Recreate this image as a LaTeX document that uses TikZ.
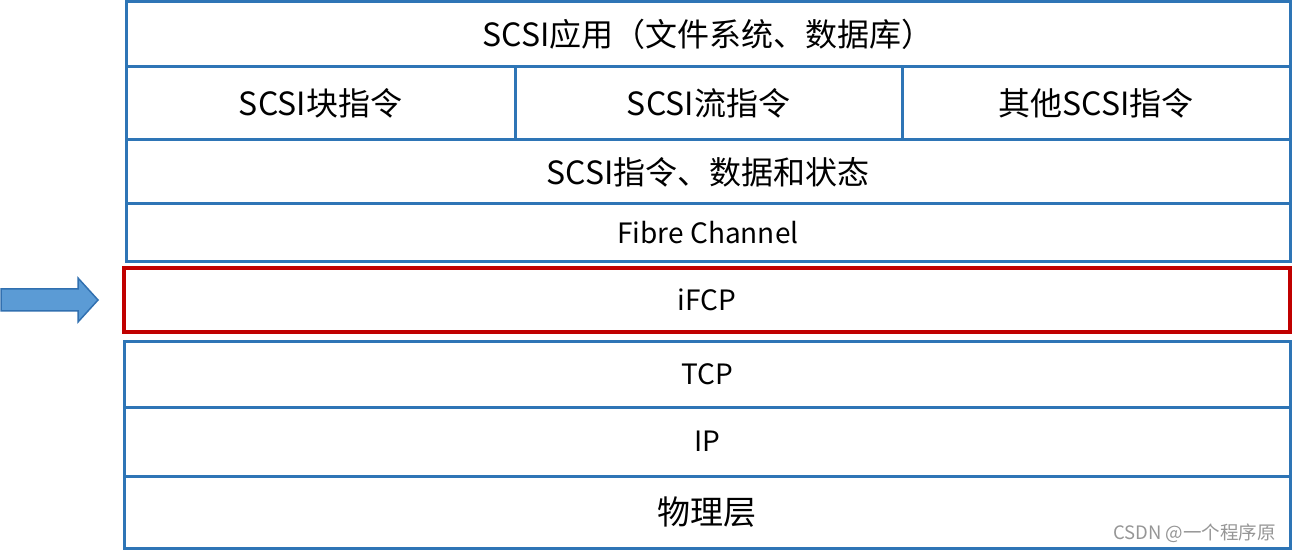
\documentclass[tikz,border=0pt]{standalone}
\usepackage{fontspec}
\setmainfont{Noto Sans CJK SC}
\usetikzlibrary{positioning}
\definecolor{layblue}{RGB}{46,117,182}
\definecolor{layred}{RGB}{192,0,0}
\definecolor{arrfill}{RGB}{91,155,213}
\definecolor{arrline}{RGB}{49,112,176}
\definecolor{wmgray}{RGB}{150,150,150}
\tikzset{
	layer/.style={draw=layblue,line width=3pt,inner sep=0pt,outer sep=0pt,anchor=north west,font=\fontsize{32}{32}\selectfont},
	thin layer/.style={layer,font=\fontsize{28}{28}\selectfont},
}
\begin{document}
\begin{tikzpicture}[x=1pt,y=-1pt]
	\useasboundingbox[fill=white](0,0)rectangle(1293,553);
	\node[layer,minimum width=1164pt,minimum height=65pt](app)at(126,2){SCSI应用（文件系统、数据库）};
	\node[layer,minimum width=389pt,minimum height=73pt,below right=0pt of app.south west](blk){SCSI块指令};
	\node[layer,minimum width=387pt,minimum height=73pt,below right=0pt of blk.north east](strm){SCSI流指令};
	\node[layer,minimum width=388pt,minimum height=73pt,below right=0pt of strm.north east](oth){其他SCSI指令};
	\node[layer,minimum width=1164pt,minimum height=64pt,below right=0pt of blk.south west](cmd){SCSI指令、数据和状态};
	\node[thin layer,minimum width=1164pt,minimum height=58pt,below right=0pt of cmd.south west](fc){Fibre Channel};
	\node[thin layer,draw=layred,line width=4pt,minimum width=1166pt,minimum height=64pt](ifcp)at(124,268){iFCP};
	\node[thin layer,minimum width=1166pt,minimum height=66pt](tcp)at(124,341){TCP};
	\node[thin layer,minimum width=1166pt,minimum height=69pt,below right=0pt of tcp.south west](ip){IP};
	\node[layer,minimum width=1166pt,minimum height=72pt,below right=0pt of ip.south west,font=\fontsize{33}{33}\selectfont](phys){物理层};
	\draw[arrline,fill=arrfill,line width=1.5pt,line join=miter](1,289)--(78,289)--(78,278)--(98,300)--(78,322)--(78,311)--(1,311)--cycle;
	\node[anchor=south east,inner sep=0pt,text=wmgray,font=\fontsize{18.5}{18.5}\selectfont](wm)at(1276,543){CSDN @一个程序原};
\end{tikzpicture}
\end{document}
